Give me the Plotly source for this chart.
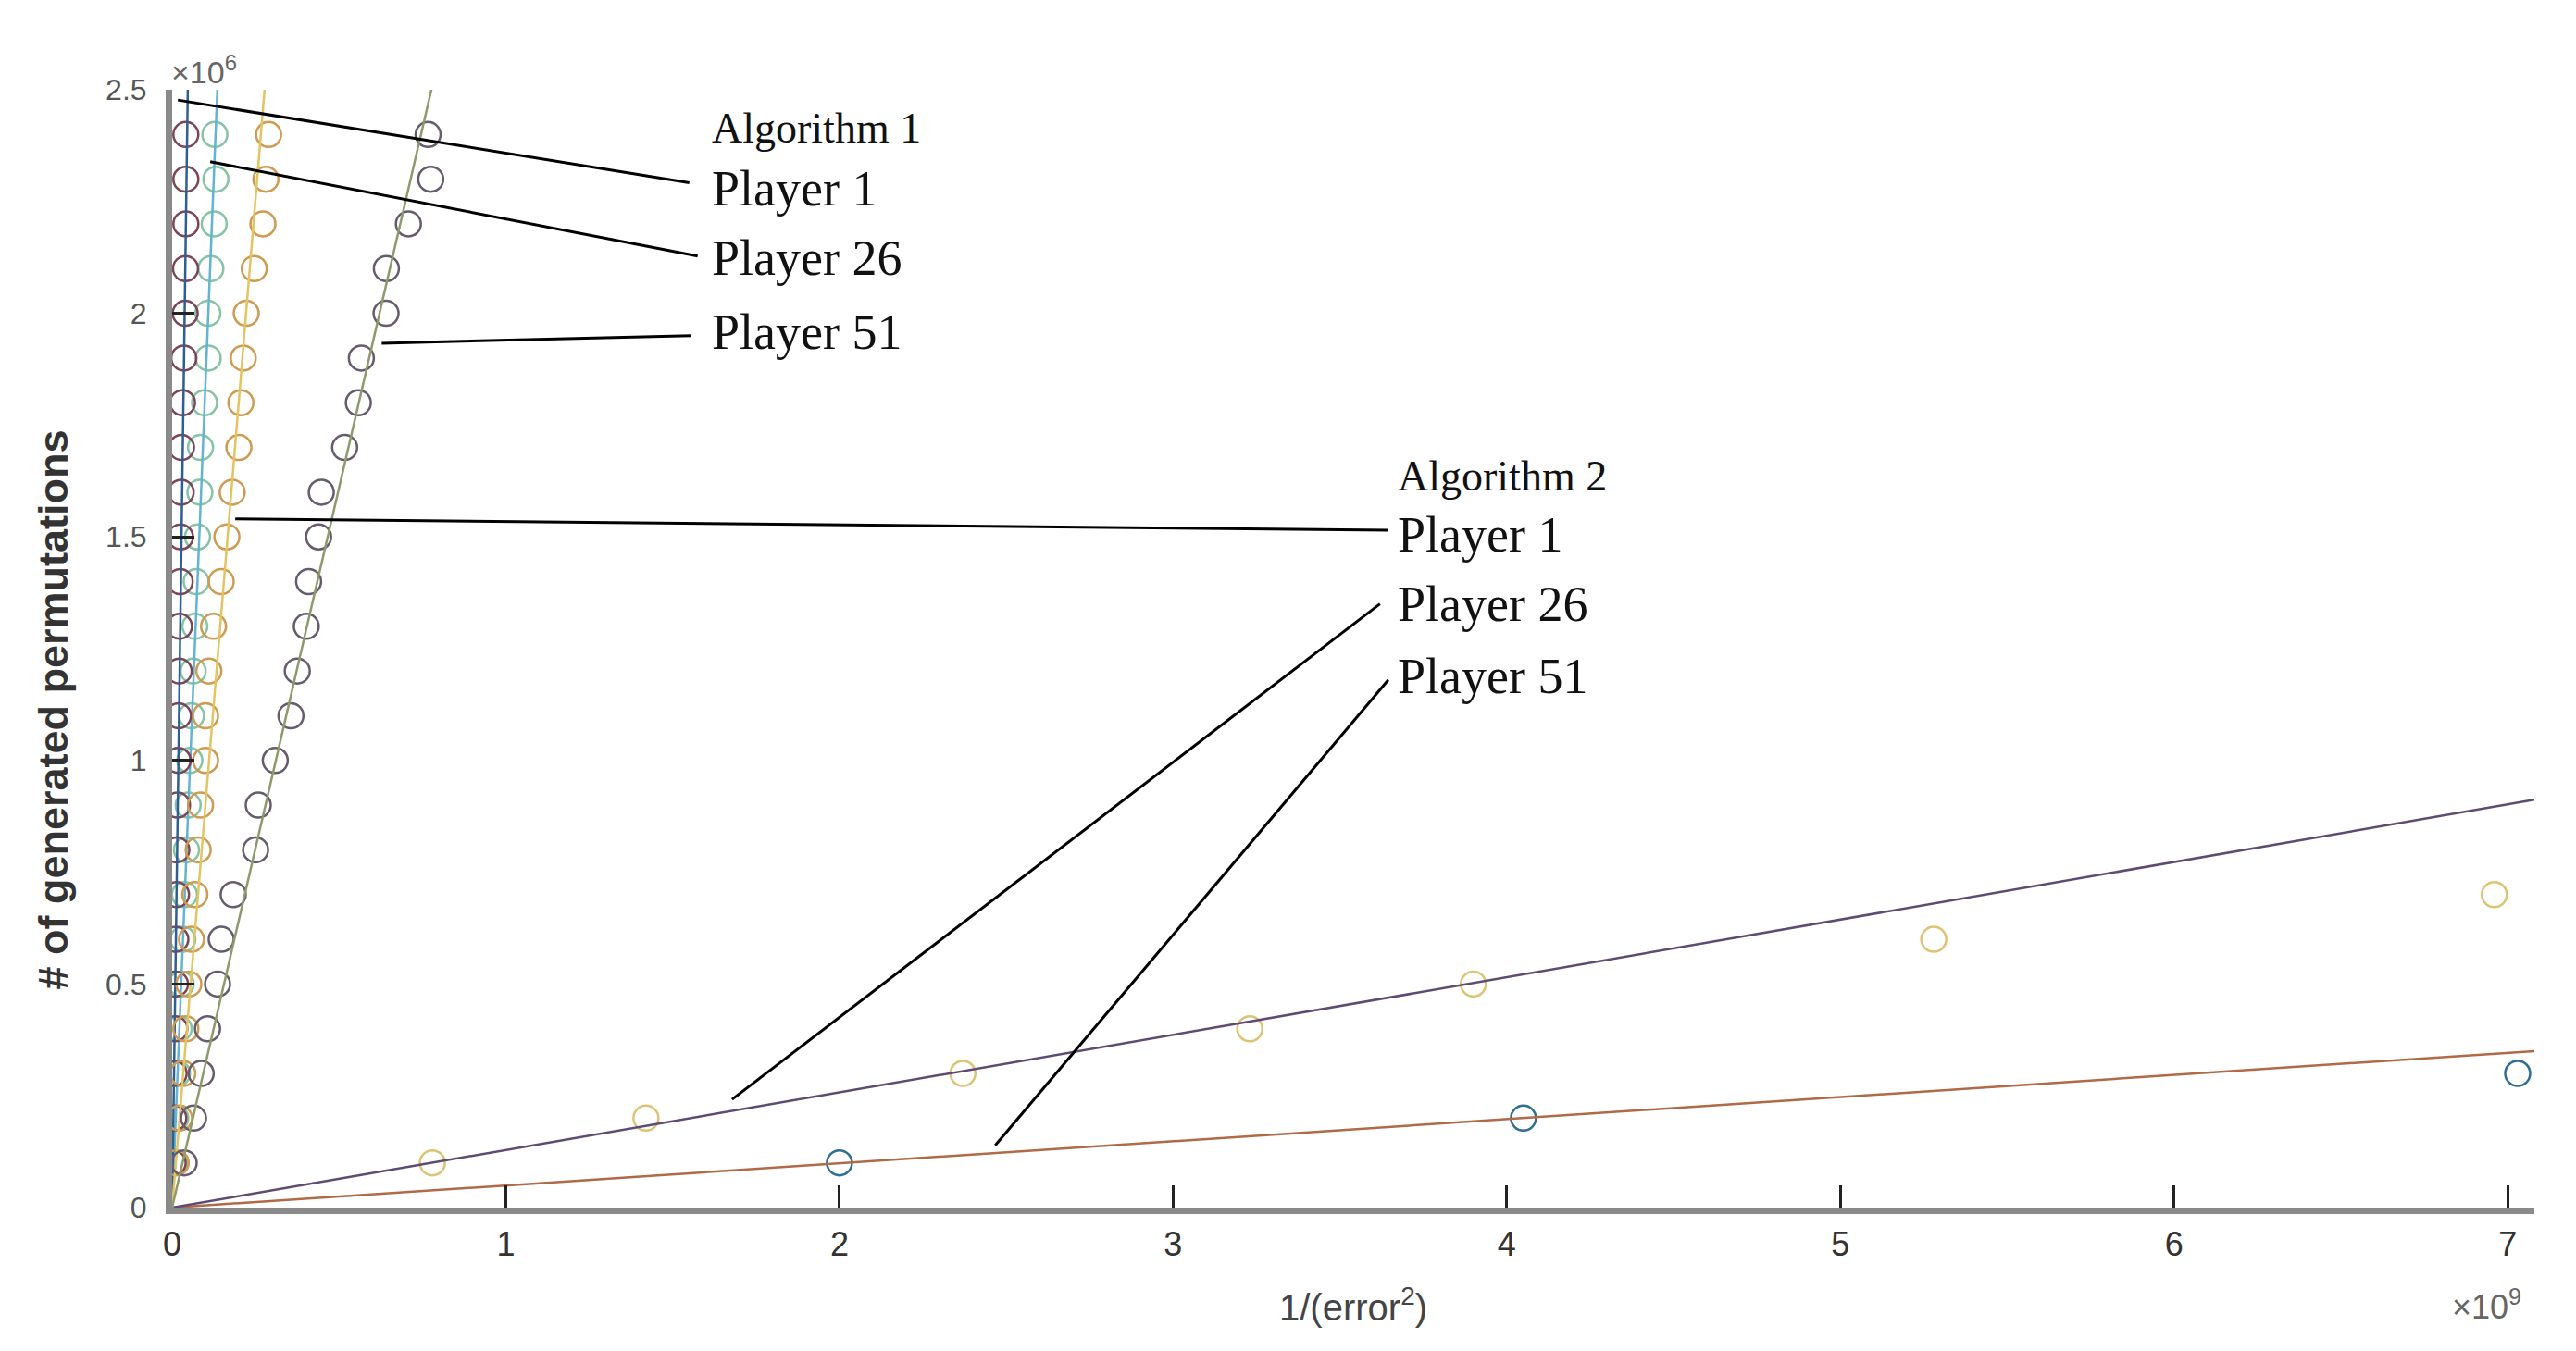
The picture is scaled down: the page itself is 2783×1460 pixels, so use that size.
# permutations vs 1/(error^2) for two algorithms, three players each
# values; x in units of 1e9, y in units of 1e6
import plotly.graph_objects as go

# permutation counts where algorithm-1 style runs were sampled (x10^6)
levels = [0.1, 0.2, 0.3, 0.4, 0.5, 0.6, 0.7, 0.8, 0.9, 1.0, 1.1, 1.2,
          1.3, 1.4, 1.5, 1.6, 1.7, 1.8, 1.9, 2.0, 2.1, 2.2, 2.3, 2.4]

# 1/(error^2) (x10^9) for each level
alg1_p1 = [0.003, 0.005, 0.006, 0.008, 0.010, 0.011, 0.013, 0.014, 0.016, 0.018, 0.019, 0.021,
           0.022, 0.024, 0.025, 0.027, 0.028, 0.031, 0.035, 0.039, 0.040, 0.041, 0.041, 0.041]
alg1_p26 = [0.006, 0.011, 0.016, 0.021, 0.027, 0.032, 0.037, 0.043, 0.048, 0.053, 0.058, 0.063,
            0.068, 0.072, 0.076, 0.083, 0.085, 0.097, 0.108, 0.107, 0.116, 0.126, 0.131, 0.128]
alg1_p51 = [0.036, 0.064, 0.087, 0.106, 0.136, 0.147, 0.183, 0.250, 0.258, 0.309, 0.356, 0.375,
            0.402, 0.409, 0.439, 0.447, 0.517, 0.558, 0.567, 0.641, 0.642, 0.708, 0.775, 0.767]
alg2_p1 = [0.012, 0.022, 0.032, 0.041, 0.050, 0.058, 0.068, 0.078, 0.085, 0.100, 0.100, 0.110,
           0.124, 0.147, 0.164, 0.180, 0.200, 0.206, 0.213, 0.222, 0.246, 0.272, 0.281, 0.289]

# the two slow series at the bottom right
alg2_p26_x = [0.78, 1.42, 2.37, 3.23, 3.90, 5.28, 6.96]
alg2_p26_y = [0.1, 0.2, 0.3, 0.4, 0.5, 0.6, 0.7]
alg2_p51_x = [2.00, 4.05, 7.03]
alg2_p51_y = [0.1, 0.2, 0.3]

# fitted lines through the origin: end points
fit_end_x = {"a1p1": 0.047, "a1p26": 0.136, "a1p51": 0.78, "a2p1": 0.278, "a2p26": 7.08, "a2p51": 7.08}
fit_end_y = {"a1p1": 2.51, "a1p26": 2.51, "a1p51": 2.51, "a2p1": 2.51, "a2p26": 0.912, "a2p51": 0.35}

# name, x, y, marker colour, line colour
series = [
    ("a2p51", alg2_p51_x, alg2_p51_y, "#2f6f94", "#b06a48"),
    ("a2p26", alg2_p26_x, alg2_p26_y, "#dcc474", "#5e4a72"),
    ("a1p26", alg1_p26, levels, "#86c4a4", "#62b4cf"),
    ("a1p1", alg1_p1, levels, "#7c4658", "#2f5f8f"),
    ("a2p1", alg2_p1, levels, "#cf9a52", "#e2c462"),
    ("a1p51", alg1_p51, levels, "#675c6e", "#8f9a6c"),
]

fig = go.Figure()
for key, xs, ys, mcol, lcol in series:
    fig.add_trace(go.Scatter(x=xs, y=ys, mode="markers",
                             marker=dict(symbol="circle-open", size=27, color=mcol,
                                         line=dict(width=2.5, color=mcol))))
    fig.add_trace(go.Scatter(x=[0, fit_end_x[key]], y=[0, fit_end_y[key]], mode="lines",
                             line=dict(width=2.5, color=lcol)))

serif = "Liberation Serif, Times New Roman, serif"
sans = "Liberation Sans, Arial, sans-serif"
narrow = "Liberation Sans Narrow, Liberation Sans, Arial, sans-serif"

# label texts and their leader lines (data coords)
labels = [
    ("Algorithm 1", 1.612, 2.415, 46),
    ("Player 1", 1.612, 2.278, 54),
    ("Player 26", 1.612, 2.123, 54),
    ("Player 51", 1.612, 1.957, 54),
    ("Algorithm 2", 3.667, 1.636, 46),
    ("Player 1", 3.667, 1.505, 54),
    ("Player 26", 3.667, 1.350, 54),
    ("Player 51", 3.667, 1.188, 54),
]
leaders = [
    (0.017, 2.477, 1.550, 2.292),
    (0.114, 2.339, 1.575, 2.128),
    (0.628, 1.933, 1.555, 1.950),
    (0.189, 1.540, 3.645, 1.515),
    (1.678, 0.242, 3.620, 1.350),
    (2.467, 0.139, 3.645, 1.180),
]

annotations = []
for txt, lx, ly, fs in labels:
    annotations.append(dict(text=txt, x=lx, y=ly, xref="x", yref="y", xanchor="left",
                            yanchor="middle", showarrow=False,
                            font=dict(family=serif, size=fs, color="#111111")))

shapes = []
for x0, y0, x1, y1 in leaders:
    shapes.append(dict(type="line", xref="x", yref="y", x0=x0, y0=y0, x1=x1, y1=y1,
                       line=dict(color="#000000", width=3)))

# axis titles and exponent tags
annotations.append(dict(text="1/(error<sup>2</sup>)", x=0.5, y=-0.087, xref="paper", yref="paper",
                        xanchor="center", yanchor="middle", showarrow=False,
                        font=dict(family=narrow, size=40, color="#444444")))
annotations.append(dict(text="\u00d710<sup>9</sup>", x=0.9953, y=-0.087, xref="paper", yref="paper",
                        xanchor="right", yanchor="middle", showarrow=False,
                        font=dict(family=narrow, size=36, color="#666666")))
annotations.append(dict(text="\u00d710<sup>6</sup>", x=-0.001, y=1.018, xref="paper", yref="paper",
                        xanchor="left", yanchor="middle", showarrow=False,
                        font=dict(family=sans, size=34, color="#666666")))
annotations.append(dict(text="<b># of generated permutations</b>", x=-0.0505, y=0.445,
                        xref="paper", yref="paper", textangle=-90, xanchor="center",
                        yanchor="middle", showarrow=False,
                        font=dict(family=sans, size=45, color="#333333")))

fig.update_layout(
    width=2783, height=1460,
    margin=dict(l=178, r=53, t=89, b=163),
    paper_bgcolor="white", plot_bgcolor="white",
    showlegend=False,
    annotations=annotations,
    shapes=shapes,
    xaxis=dict(range=[0, 7.08], tickvals=[0, 1, 2, 3, 4, 5, 6, 7],
               ticktext=["0", "1", "2", "3", "4", "5", "6", "7"],
               ticks="inside", ticklen=24, tickwidth=3, tickcolor="#222222",
               showline=True, linewidth=7, linecolor="#8a8a8a",
               showgrid=False, zeroline=False, ticklabelstandoff=2,
               tickfont=dict(family=narrow, size=36, color="#333333")),
    yaxis=dict(range=[0, 2.5], tickvals=[0, 0.5, 1, 1.5, 2, 2.5],
               ticktext=["0", "0.5", "1", "1.5", "2", "2.5"],
               ticks="inside", ticklen=24, tickwidth=3, tickcolor="#222222",
               showline=True, linewidth=7, linecolor="#8a8a8a",
               showgrid=False, zeroline=False, ticklabelstandoff=14,
               tickfont=dict(family=sans, size=32, color="#555555")),
)

fig.write_html("out.html")
